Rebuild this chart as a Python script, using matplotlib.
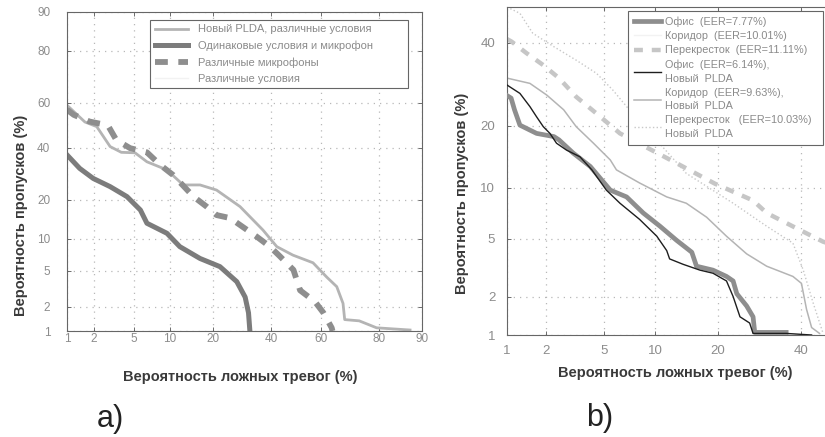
import math
import numpy as np
import matplotlib
matplotlib.use('Agg')
import matplotlib.pyplot as plt

plt.rcParams['font.family'] = ['Liberation Sans', 'DejaVu Sans']

# ---- panel a) ----
far_plda_diff = [1.0, 1.6, 2.15, 2.95, 3.8, 5.1, 6.5, 9.5, 12.6, 16.5, 21, 28.5, 36.9, 42.3,
                 48.8, 56.9, 62.3, 66.1, 68.4, 69, 74, 79.4, 87.7]
miss_plda_diff = [59, 51.5, 49.4, 40.5, 38, 37.8, 34, 30.7, 25, 25, 23.2, 17.9, 11.8, 8.5,
                  7.1, 6.0, 4.3, 3.4, 2.2, 1.4, 1.35, 1.1, 1.03]

far_same = [1.0, 1.4, 1.97, 2.95, 4.3, 5.7, 6.5, 9.5, 11.9, 16.5, 22, 27.4, 30.3, 31.5, 32]
miss_same = [36.9, 31.3, 27.4, 24.4, 21, 16.9, 13.4, 11.1, 8.5, 6.6, 5.5, 3.85, 2.6, 1.7, 1.0]

far_mics = [1.0, 1.2, 1.8, 2.8, 3.4, 4.6, 6.5, 8.4, 10.6, 14.9, 18.2, 21, 25.2, 34.5, 39.6,
            43.6, 49, 51.7, 57.7, 61, 64.2, 64.5]
miss_mics = [57, 54.7, 51.7, 50, 43.4, 39.8, 38, 32.7, 28.7, 21, 17.9, 15.5, 14.7, 10.4, 8.5,
             6.9, 5.1, 3.1, 2.3, 1.7, 1.1, 1.0]

labels_a = ['Новый PLDA, различные условия', 'Одинаковые условия и микрофон',
            'Различные микрофоны', 'Различные условия']

# ---- panel b) ----
far_office = [1.0, 1.08, 1.15, 1.27, 1.71, 2.3, 2.5, 3.15, 4.1, 5.5, 6.9, 8.6, 10.6, 12.9, 15.3,
              16.1, 19.1, 21.8, 23.2, 24, 26.2, 27.7, 28.1, 36]
miss_office = [26.5, 25.9, 23.3, 20.1, 18.5, 17.9, 17.3, 15, 12.9, 9.7, 8.9, 7.2, 6.0, 4.9, 4.1,
               3.3, 3.1, 2.8, 2.6, 2.1, 1.7, 1.4, 1.05, 1.05]

far_office_new = [1.0, 1.27, 1.52, 1.71, 1.92, 2.15, 2.4, 2.83, 3.5, 4.2, 5.2, 6.3, 8.2, 10.2,
                  11.5, 11.9, 13.9, 16.7, 19.1, 21.8, 23.2, 24.7, 26.9, 27.7, 36.1, 42.9]
miss_office_new = [29, 27, 24, 21.8, 19.8, 18.5, 16.7, 15.5, 14.4, 12.4, 9.7, 8.2, 6.6, 5.2,
                   4.2, 3.7, 3.4, 3.1, 2.95, 2.6, 2.0, 1.4, 1.25, 1.03, 1.03, 1.0]

far_corr_new = [1.0, 1.52, 2.04, 2.7, 3.3, 4.3, 5.5, 6.0, 8.2, 11.5, 14.4, 17.9, 21.8, 26.2,
                31, 37.8, 40.1, 41.5, 42.9, 45.1]
miss_corr_new = [30.7, 29.4, 26.6, 23.3, 19.8, 16.7, 13.9, 12.4, 10.6, 8.9, 8.2, 6.8, 5.2, 4.0,
                 3.3, 2.8, 2.5, 1.6, 1.15, 1.03]

far_cross = [1.0, 1.09, 1.44, 1.92, 2.5, 3.3, 4.5, 6.3, 12.9, 19.5, 27.7, 31, 39.6, 46.1, 50]
miss_cross = [41, 40.3, 37.1, 34, 30.7, 26.2, 22.5, 18.5, 13.4, 10.5, 8.5, 7.2, 5.7, 4.8, 4.5]

far_cross_new = [1.0, 1.27, 1.6, 2.3, 3.3, 4.5, 5.7, 6.9, 14.4, 23.2, 31, 37.8, 40.6, 43.3, 46.1]
miss_cross_new = [50, 48.2, 42.6, 38.9, 35.3, 31.9, 27.8, 24, 11.9, 8.2, 6.0, 4.7, 3.1, 1.8, 1.03]

labels_b = ['Офис  (EER=7.77%)', 'Коридор  (EER=10.01%)', 'Перекресток  (EER=11.11%)',
            'Офис  (EER=6.14%),\nНовый  PLDA', 'Коридор  (EER=9.63%),\nНовый  PLDA',
            'Перекресток   (EER=10.03%)\nНовый  PLDA']

ticks_a = [1, 2, 5, 10, 20, 40, 60, 80, 90]
ticks_b = [1, 2, 5, 10, 20, 40]

xlabel = 'Вероятность ложных тревог (%)'
ylabel = 'Вероятность пропусков (%)'


# normal deviate scale (Acklam approximation of the inverse normal cdf)
A = [-3.969683028665376e+01, 2.209460984245205e+02, -2.759285104469687e+02,
     1.383577518672690e+02, -3.066479806614716e+01, 2.506628277459239e+00]
B = [-5.447609879822406e+01, 1.615858368580409e+02, -1.556989798598866e+02,
     6.680131188771972e+01, -1.328068155288572e+01]
C = [-7.784894002430293e-03, -3.223964580411365e-01, -2.400758277161838e+00,
     -2.549732539343734e+00, 4.374664141464968e+00, 2.938163982698783e+00]
D = [7.784695709041462e-03, 3.224671290700398e-01, 2.445134137142996e+00,
     3.754408661907416e+00]


def _tail(q):
    num = ((((C[0] * q + C[1]) * q + C[2]) * q + C[3]) * q + C[4]) * q + C[5]
    den = (((D[0] * q + D[1]) * q + D[2]) * q + D[3]) * q + 1
    return num / den


def probit(pct):
    p = np.clip(np.asarray(pct, dtype=float) / 100.0, 1e-9, 1 - 1e-9)
    q = p - 0.5
    r = q * q
    mid = (((((A[0] * r + A[1]) * r + A[2]) * r + A[3]) * r + A[4]) * r + A[5]) * q / \
          (((((B[0] * r + B[1]) * r + B[2]) * r + B[3]) * r + B[4]) * r + 1)
    low = _tail(np.sqrt(-2 * np.log(p)))
    high = -_tail(np.sqrt(-2 * np.log(1 - p)))
    return np.where(p < 0.02425, low, np.where(p > 1 - 0.02425, high, mid))


_erf = np.vectorize(math.erf, otypes=[float])


def inv_probit(z):
    z = np.asarray(z, dtype=float)
    return 100.0 * 0.5 * (1 + _erf(z / math.sqrt(2)))


def setup_det(ax, xmax, ymax, ticks, tsize, xpad, ypad):
    ax.set_xscale('function', functions=(probit, inv_probit))
    ax.set_yscale('function', functions=(probit, inv_probit))
    ax.set_xlim(1, xmax)
    ax.set_ylim(1, ymax)
    ax.set_xticks(ticks, [str(t) for t in ticks])
    ax.set_yticks(ticks, [str(t) for t in ticks])
    ax.minorticks_off()
    ax.grid(True, color='#b8b8b8', linestyle=(0, (1, 4)), linewidth=0.9)
    ax.tick_params(direction='in', top=True, right=True, length=3, width=0.6,
                   color='#555555', labelcolor='#8c8c8c', labelsize=tsize)
    ax.tick_params(axis='x', pad=xpad)
    ax.tick_params(axis='y', pad=ypad)
    for s in ax.spines.values():
        s.set_color('#666666')
        s.set_linewidth(0.8)


fig = plt.figure(figsize=(8.25, 4.37), dpi=100)

# a)
ax1 = fig.add_axes([67 / 825, 1 - 331 / 437, 355 / 825, 319 / 437])
setup_det(ax1, 90, 90, ticks_a, 8.5, 1.5, 12)
ax1.plot(far_plda_diff, miss_plda_diff, color='#b4b4b4', lw=2.0, label=labels_a[0])
ax1.plot(far_same, miss_same, color='#7c7c7c', lw=3.6, label=labels_a[1])
ax1.plot(far_mics, miss_mics, color='#8e8e8e', lw=4.2, dashes=(2.2, 1.8), label=labels_a[2])
ax1.plot([], [], color='#f2f2f2', lw=1.0, label=labels_a[3])
leg1 = ax1.legend(loc='upper left', bbox_to_anchor=(0.234, 0.724, 0.726, 0.251),
                  mode='expand', borderaxespad=0, fontsize=8, labelcolor='#8a8a8a',
                  handlelength=3.0, handletextpad=0.9, labelspacing=0.55, borderpad=0.4,
                  fancybox=False, framealpha=1)
leg1.get_frame().set_edgecolor('#666666')
leg1.get_frame().set_linewidth(0.8)
ax1.set_xlabel(xlabel, fontsize=10.5, fontweight='bold', color='#3a3a3a')
ax1.set_ylabel(ylabel, fontsize=10.5, fontweight='bold', color='#3a3a3a')
ax1.xaxis.set_label_coords(0.487, -0.144)
ax1.xaxis.label.set_va('center')
ax1.yaxis.set_label_coords(-0.13, 0.364)
ax1.yaxis.label.set_va('center')

# b)
ax2 = fig.add_axes([507 / 825, 1 - 335 / 437, 330 / 825, 328 / 437])
setup_det(ax2, 50, 50, ticks_b, 9.5, 7, 8.5)
ax2.plot(far_office, miss_office, color='#8e8e8e', lw=3.4, label=labels_b[0], zorder=3)
ax2.plot([], [], color='#f2f2f2', lw=1.0, label=labels_b[1])
ax2.plot(far_cross, miss_cross, color='#c6c6c6', lw=3.2, dashes=(2.0, 2.0), label=labels_b[2])
ax2.plot(far_office_new, miss_office_new, color='#1e1e1e', lw=1.0, label=labels_b[3], zorder=4)
ax2.plot(far_corr_new, miss_corr_new, color='#b4b4b4', lw=1.1, label=labels_b[4])
ax2.plot(far_cross_new, miss_cross_new, color='#c8c8c8', lw=1.0, linestyle=':', label=labels_b[5])
leg2 = ax2.legend(loc='upper left', bbox_to_anchor=(0.367, 0.988, 0.591, 0.001),
                  mode='expand', borderaxespad=0, fontsize=7.8, labelcolor='#8a8a8a',
                  handlelength=2.5, handletextpad=0.35, labelspacing=0.38, borderpad=0.55,
                  fancybox=False, framealpha=1)
for t in leg2.get_texts():
    t.set_linespacing(1.45)
leg2.get_frame().set_edgecolor('#666666')
leg2.get_frame().set_linewidth(0.8)
leg2.set_zorder(10)
ax2.set_xlabel(xlabel, fontsize=10.5, fontweight='bold', color='#3a3a3a')
ax2.set_ylabel(ylabel, fontsize=10.5, fontweight='bold', color='#3a3a3a')
ax2.xaxis.set_label_coords(0.509, -0.116)
ax2.xaxis.label.set_va('center')
ax2.yaxis.set_label_coords(-0.136, 0.433)
ax2.yaxis.label.set_va('center')

fig.text(110 / 825, 1 - 427 / 437, 'a)', fontsize=22, ha='center', va='baseline', color='#222222')
fig.text(600 / 825, 1 - 426 / 437, 'b)', fontsize=22, ha='center', va='baseline', color='#222222')

fig.savefig('out.png', dpi=100)
